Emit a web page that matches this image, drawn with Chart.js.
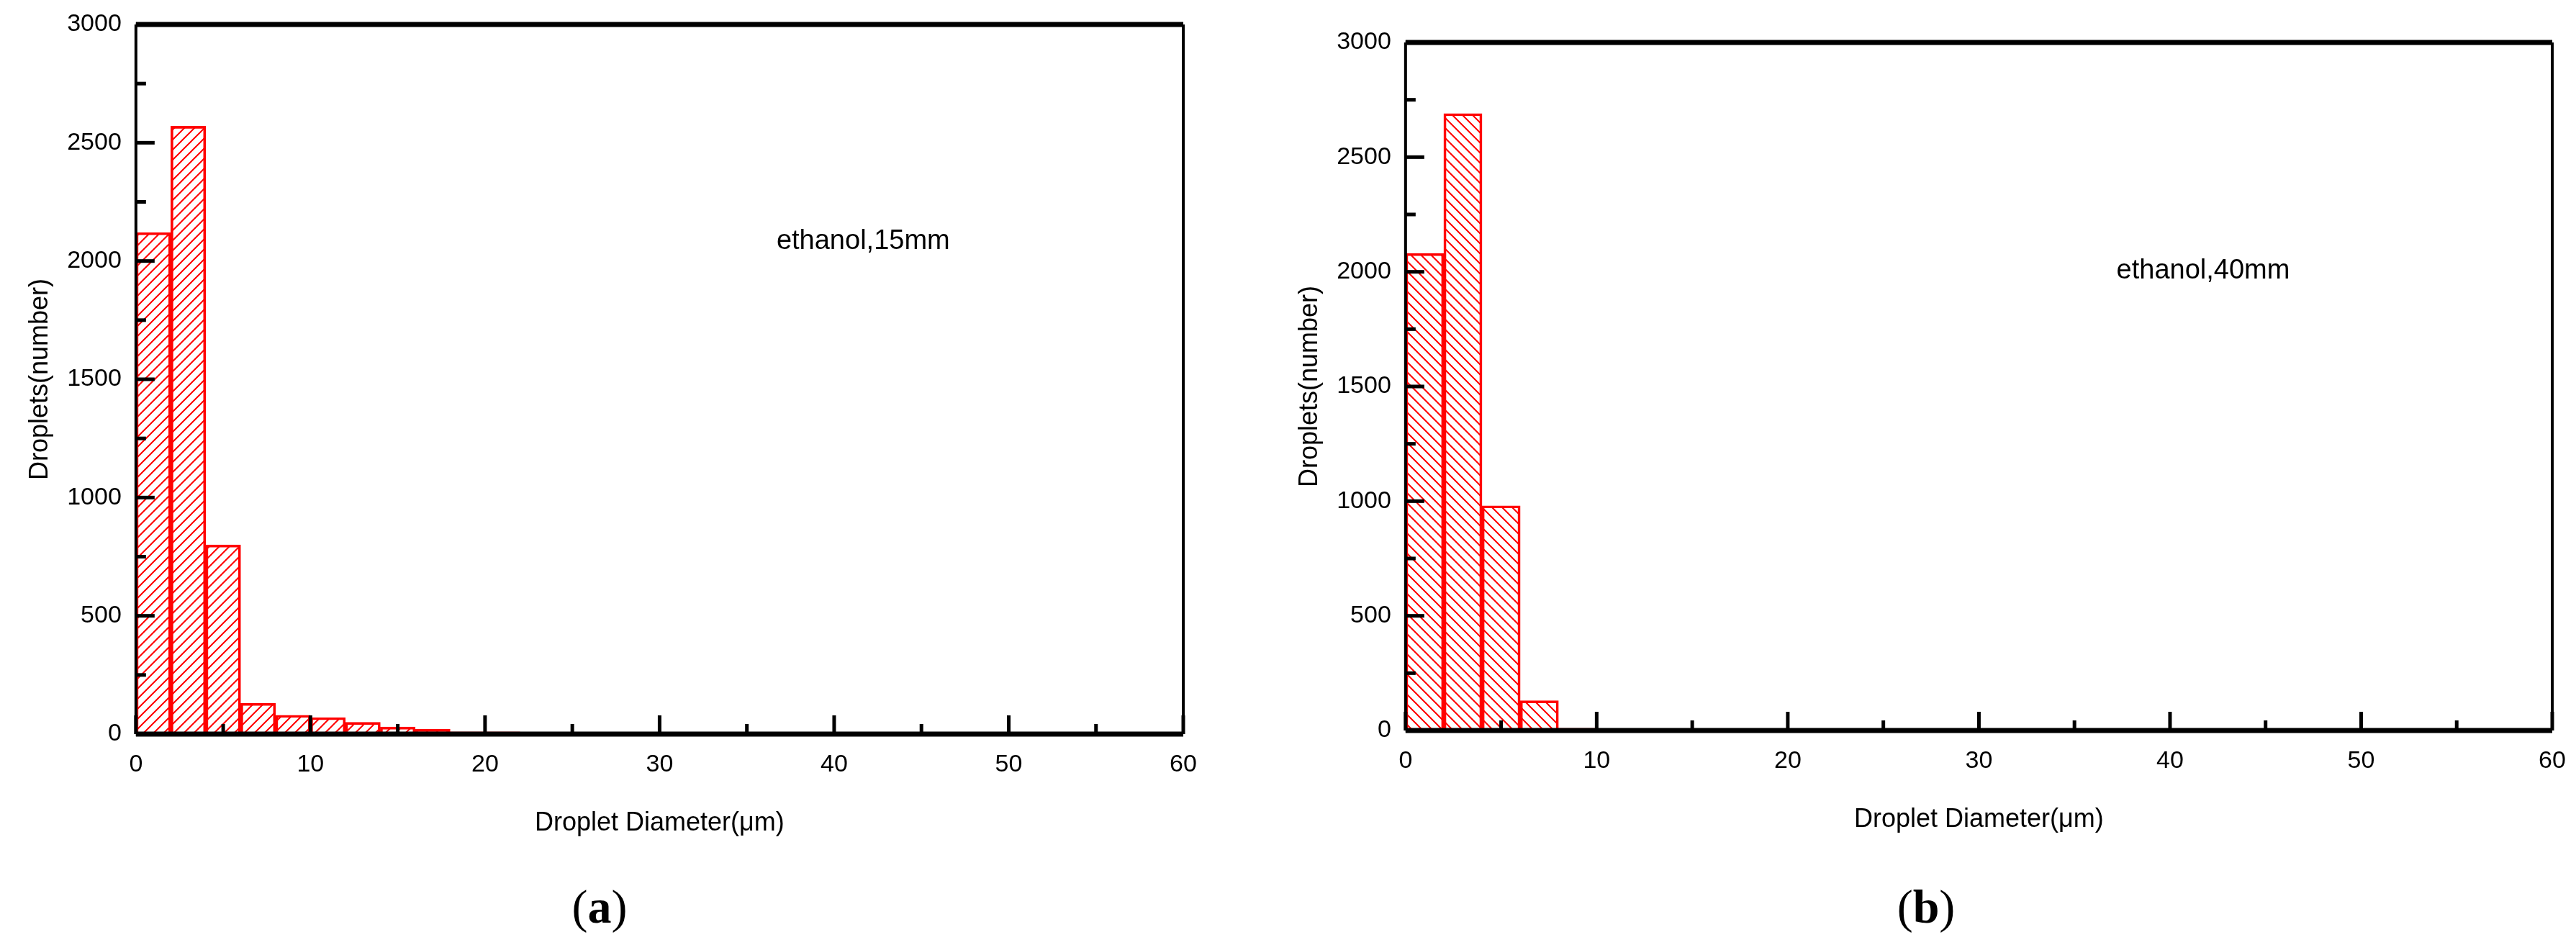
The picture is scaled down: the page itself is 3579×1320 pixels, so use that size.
<!DOCTYPE html>
<html>
<head>
<meta charset="utf-8">
<script src="https://cdn.jsdelivr.net/npm/chart.js@4.4.1/dist/chart.umd.min.js"></script>
<style>
  body { margin: 0; background: #fff; width: 3579px; height: 1320px; overflow: hidden; position: relative; }
  .panel { position: absolute; top: 0; }
  .lbl { position: absolute; top: 1222px; font: 66px "Liberation Serif", serif; transform: translateX(-50%); }
</style>
</head>
<body>
<div class="panel" style="left:0"><canvas id="c1" width="1740" height="1170"></canvas></div>
<div class="panel" style="left:1760px"><canvas id="c2" width="1819" height="1165"></canvas></div>
<div class="lbl" style="left:833px">(<b>a</b>)</div>
<div class="lbl" style="left:2676px">(<b>b</b>)</div>
<script>
const binCenters = [1, 3, 5, 7, 9, 11, 13, 15, 17, 19, 21, 23, 25];
const counts15 = [2120, 2570, 800, 130, 80, 70, 50, 30, 20, 10, 10, 5, 2];
const counts40 = [2080, 2690, 980, 130, 10, 5, 0, 0, 0, 0, 0, 0, 0];
const xTicks = [0, 10, 20, 30, 40, 50, 60];
const yTicks = [0, 500, 1000, 1500, 2000, 2500, 3000];

function hatch(dir) {
  const c = document.createElement('canvas');
  c.width = 14; c.height = 14;
  const g = c.getContext('2d');
  g.strokeStyle = '#ff0000';
  g.lineWidth = 2;
  g.beginPath();
  if (dir > 0) {
    g.moveTo(0, 14); g.lineTo(14, 0);
    g.moveTo(-7, 7); g.lineTo(7, -7);
    g.moveTo(7, 21); g.lineTo(21, 7);
  } else {
    g.moveTo(0, 0); g.lineTo(14, 14);
    g.moveTo(-7, 7); g.lineTo(7, 21);
    g.moveTo(7, -7); g.lineTo(21, 7);
  }
  g.stroke();
  return g.createPattern(c, 'repeat');
}

// ticks drawn inside the frame, like the original plot
const innerTicks = {
  id: 'innerTicks',
  afterDraw(chart, args, opts) {
    const { ctx, chartArea: a, scales: { x, y } } = chart;
    ctx.save();
    ctx.strokeStyle = '#000';
    ctx.lineWidth = 5;
    for (let v = 0; v <= 60; v += 5) {
      const px = x.getPixelForValue(v);
      const len = v % 10 === 0 ? 26 : 14;
      ctx.beginPath(); ctx.moveTo(px, a.bottom); ctx.lineTo(px, a.bottom - len); ctx.stroke();
    }
    for (let v = 0; v <= 3000; v += 250) {
      const py = y.getPixelForValue(v);
      const len = v % 500 === 0 ? 26 : 14;
      ctx.beginPath(); ctx.moveTo(a.left, py); ctx.lineTo(a.left + len, py); ctx.stroke();
    }
    ctx.lineWidth = 7;
    ctx.beginPath(); ctx.moveTo(a.left, a.top); ctx.lineTo(a.right, a.top); ctx.stroke();
    ctx.beginPath(); ctx.moveTo(a.left, a.bottom); ctx.lineTo(a.right, a.bottom); ctx.stroke();
    ctx.lineWidth = 4;
    ctx.beginPath(); ctx.moveTo(a.left, a.top); ctx.lineTo(a.left, a.bottom); ctx.stroke();
    ctx.beginPath(); ctx.moveTo(a.right, a.top); ctx.lineTo(a.right, a.bottom); ctx.stroke();
    ctx.fillStyle = '#000';
    ctx.font = '38px "Liberation Sans", Arial, sans-serif';
    ctx.fillText(opts.text, x.getPixelForValue(opts.tx), y.getPixelForValue(opts.ty));
    ctx.restore();
  }
};

function makeChart(id, counts, dir, text, tx, ty, pad) {
  new Chart(document.getElementById(id), {
    type: 'bar',
    data: {
      labels: binCenters,
      datasets: [{
        data: binCenters.map((c, i) => ({ x: c, y: counts[i] })),
        backgroundColor: hatch(dir),
        borderColor: '#ff0000',
        borderWidth: 3,
        barPercentage: 1,
        categoryPercentage: 1
      }]
    },
    options: {
      responsive: false,
      animation: false,
      devicePixelRatio: 1,
      layout: { padding: pad },
      plugins: { legend: { display: false }, tooltip: { enabled: false },
        innerTicks: { text, tx, ty } },
      scales: {
        x: {
          type: 'linear', min: 0, max: 60, offset: false,
          afterBuildTicks: s => { s.ticks = xTicks.map(v => ({ value: v })); },
          grid: { display: false }, border: { display: false },
          ticks: { color: '#000', font: { size: 34, family: 'Liberation Sans' }, padding: 14,
            callback: v => String(v) },
          title: { display: true, text: 'Droplet Diameter(\u03bcm)', color: '#000',
            font: { size: 36, family: 'Liberation Sans' }, padding: { top: 26 } }
        },
        y: {
          min: 0, max: 3000,
          afterBuildTicks: s => { s.ticks = yTicks.map(v => ({ value: v })); },
          grid: { display: false }, border: { display: false },
          ticks: { color: '#000', font: { size: 34, family: 'Liberation Sans' }, padding: 12,
            callback: v => String(v) },
          title: { display: true, text: 'Droplets(number)', color: '#000',
            font: { size: 36, family: 'Liberation Sans' }, padding: { bottom: 4 } }
        }
      }
    },
    plugins: [innerTicks]
  });
}

makeChart('c1', counts15, 1, 'ethanol,15mm', 36.7, 2050, { top: 34, right: 96, left: 30 });
makeChart('c2', counts40, -1, 'ethanol,40mm', 37.2, 1970, { top: 59, right: 33, left: 34 });
</script>
</body>
</html>
